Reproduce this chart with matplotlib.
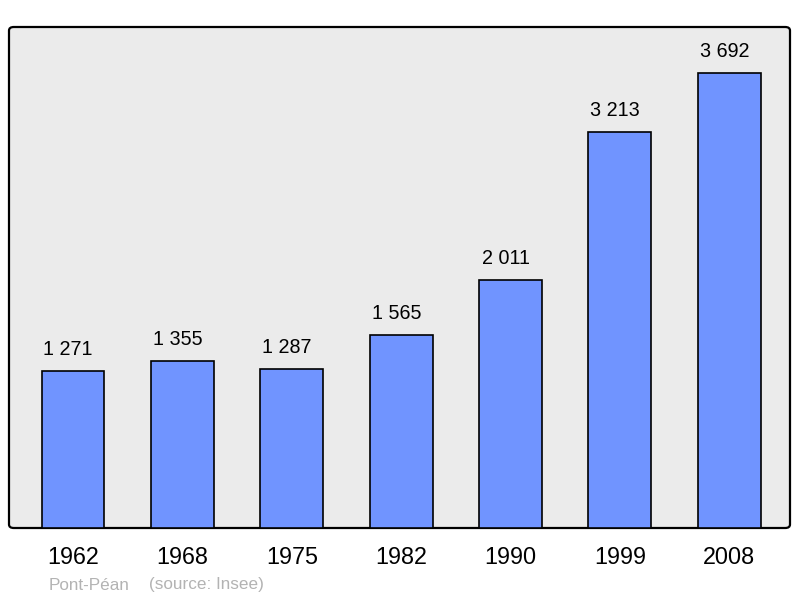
import matplotlib.pyplot as plt
from matplotlib.patches import FancyBboxPatch

years = ['1962', '1968', '1975', '1982', '1990', '1999', '2008']
population = [1271, 1355, 1287, 1565, 2011, 3213, 3692]

plt.rcParams['font.family'] = ['Liberation Sans', 'DejaVu Sans']

fig = plt.figure(figsize=(8, 5.98), dpi=100)
ax = fig.add_axes([9 / 800, 1 - 528 / 598, 781 / 800, 501 / 598])
ax.set_facecolor('none')

# rounded frame behind the axes
frame = FancyBboxPatch((9 / 800, 1 - 528 / 598), 781 / 800, 501 / 598,
                       boxstyle='round,pad=0,rounding_size=0.006',
                       transform=fig.transFigure, facecolor='#ebebeb',
                       edgecolor='black', linewidth=1.6, zorder=-1)
fig.patches.append(frame)

x = list(range(len(years)))
bars = ax.bar(x, population, width=0.575, color='#7094ff', edgecolor='black',
              linewidth=1.2, zorder=3)

for xi, v in zip(x, population):
    label = f'{v:,}'.replace(',', ' ')
    ax.annotate(label, (xi, v), xytext=(-3.5, 9), textcoords='offset points',
                ha='center', va='bottom', fontsize=14.2)

ax.set_xlim(-0.585, 6.555)
ax.set_ylim(0, 4066)
ax.set_yticks([])
ax.set_xticks(x)
ax.set_xticklabels(years, fontsize=16.8)
ax.tick_params(axis='x', length=0, pad=13)
for s in ax.spines.values():
    s.set_visible(False)

fig.text(49 / 800, 1 - 585 / 598, 'Pont-Péan', color='#b3b3b3', fontsize=12.3, va='center')
fig.text(149 / 800, 1 - 585 / 598, '(source: Insee)', color='#b3b3b3', fontsize=12.3, va='center')

fig.savefig('out.png', dpi=100)
